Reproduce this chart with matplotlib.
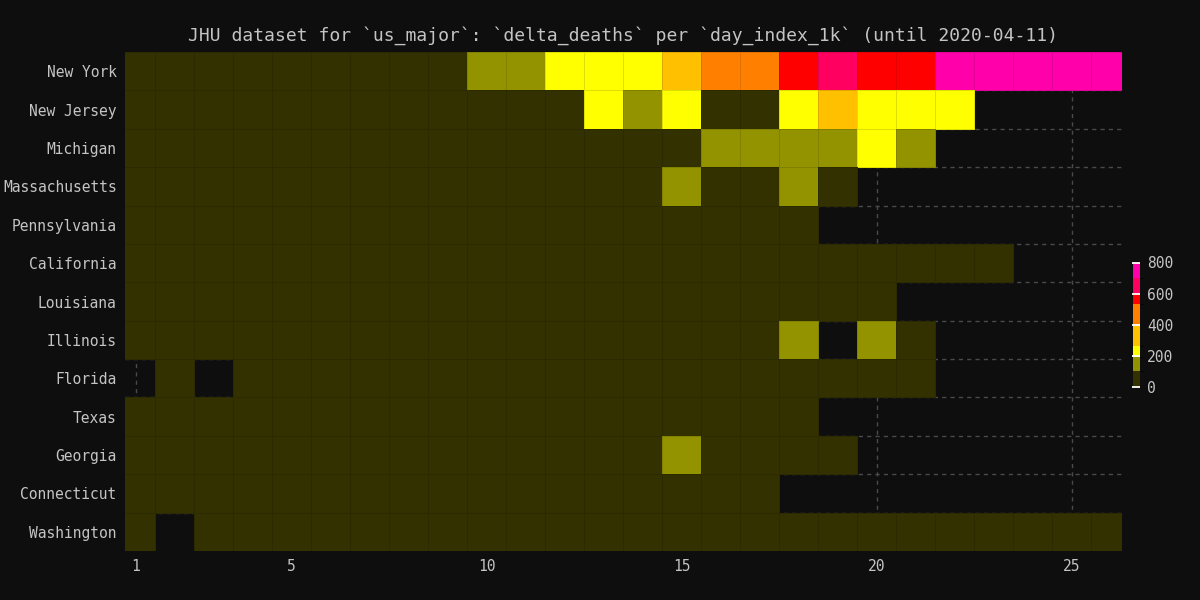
import matplotlib
matplotlib.use('Agg')
import matplotlib.pyplot as plt
import numpy as np
from matplotlib.colors import ListedColormap, BoundaryNorm

nan = np.nan

states = ['New York', 'New Jersey', 'Michigan', 'Massachusetts', 'Pennsylvania',
          'California', 'Louisiana', 'Illinois', 'Florida', 'Texas', 'Georgia',
          'Connecticut', 'Washington']
days = np.arange(1, 27)

new_york = [0, 0, 1, 2, 5, 8, 22, 38, 55, 118, 152, 210, 237, 252, 384, 455, 519,
            563, 630, 575, 590, 790, 740, 760, 770, 780]
new_jersey = [0, 0, 0, 0, 1, 2, 3, 5, 9, 16, 20, 40, 215, 130, 230, 90, 70, 232,
              275, 250, 225, 245, nan, nan, nan, nan]
michigan = [0, 0, 0, 0, 0, 0, 1, 2, 4, 5, 8, 12, 20, 35, 60, 110, 115, 150, 118,
            205, 117, nan, nan, nan, nan, nan]
massachusetts = [0, 0, 0, 0, 0, 0, 0, 1, 3, 4, 6, 10, 17, 23, 108, 56, 76, 120, 96,
                 nan, nan, nan, nan, nan, nan, nan]
pennsylvania = [0, 0, 0, 0, 1, 1, 2, 4, 6, 9, 12, 15, 22, 30, 40, 48, 60, 75,
                nan, nan, nan, nan, nan, nan, nan, nan]
california = [0, 1, 1, 2, 3, 4, 5, 8, 10, 14, 18, 20, 25, 30, 35, 40, 45, 50, 55,
              60, 68, 70, 72, nan, nan, nan]
louisiana = [0, 1, 2, 3, 5, 8, 10, 14, 18, 20, 25, 30, 35, 40, 45, 50, 60, 65, 70,
             75, nan, nan, nan, nan, nan, nan]
illinois = [0, 0, 1, 1, 2, 3, 4, 6, 8, 10, 13, 16, 20, 25, 35, 45, 60, 125, nan,
            160, 68, nan, nan, nan, nan, nan]
florida = [nan, 1, nan, 1, 2, 3, 4, 6, 8, 10, 12, 15, 18, 22, 26, 30, 35, 40, 45,
           55, 65, nan, nan, nan, nan, nan]
texas = [0, 0, 1, 1, 2, 3, 4, 5, 6, 8, 10, 12, 14, 16, 18, 20, 22, 25,
         nan, nan, nan, nan, nan, nan, nan, nan]
georgia = [0, 0, 1, 1, 2, 3, 4, 6, 8, 10, 14, 18, 22, 30, 108, 40, 50, 60, 70,
           nan, nan, nan, nan, nan, nan, nan]
connecticut = [0, 0, 0, 1, 1, 2, 3, 4, 6, 8, 10, 12, 15, 20, 25, 30, 40,
               nan, nan, nan, nan, nan, nan, nan, nan, nan]
washington = [1, nan, 2, 3, 4, 5, 6, 8, 10, 12, 14, 16, 18, 20, 22, 24, 26, 28, 30,
              32, 34, 36, 38, 40, 42, 44]

values = np.array([new_york, new_jersey, michigan, massachusetts, pennsylvania,
                   california, louisiana, illinois, florida, texas, georgia,
                   connecticut, washington], dtype=float)

bounds = [0, 105, 195, 265, 400, 535, 600, 700, 800]
colors = ['#333100', '#939300', '#ffff00', '#ffc000', '#ff8000', '#ff0000',
          '#ff0060', '#ff00aa']
cbar_ticks = [0, 200, 400, 600, 800]
x_ticks = [1, 5, 10, 15, 20, 25]

bg = '#0e0e0e'
fg = '#c4c4c4'
plt.rcParams['font.family'] = ['DejaVu Sans Mono']

cmap = ListedColormap(colors)
norm = BoundaryNorm(bounds, cmap.N)

fig = plt.figure(figsize=(12, 6), dpi=100, facecolor=bg)
ax = fig.add_axes([0.1042, 0.0817, 0.8306, 0.8316], facecolor=bg)

x_edges = np.append(days - 0.5, days[-1] + 0.5)
y_edges = np.arange(len(states) + 1) - 0.5
mesh = ax.pcolormesh(x_edges, y_edges, np.ma.masked_invalid(values), cmap=cmap,
                     norm=norm, linewidth=0.6)
# thin dark borders only around cells that hold data
edge_rgba = np.zeros((values.size, 4))
edge_rgba[:, 3] = np.where(np.isnan(values.ravel()), 0.0, 0.12)
mesh.set_edgecolor(edge_rgba)

ax.set_xlim(0.725, 26.28)
ax.set_ylim(len(states) - 0.5, -0.5)
ax.set_yticks(np.arange(len(states)))
ax.set_yticklabels(states)
ax.set_yticks(np.arange(len(states) - 1) + 0.5, minor=True)
ax.set_xticks(x_ticks)
ax.set_axisbelow(True)
ax.grid(True, which='major', axis='x', color='#4a4a4a', linestyle=(0, (3, 3)), lw=1)
ax.grid(True, which='minor', axis='y', color='#4a4a4a', linestyle=(0, (3, 3)), lw=1)
ax.tick_params(which='both', length=0, colors=fg, labelsize=10.5, pad=6)
for s in ax.spines.values():
    s.set_visible(False)

ax.set_title("JHU dataset for `us_major`: `delta_deaths` per `day_index_1k` (until 2020-04-11)",
             color=fg, fontsize=13, pad=8)

cax = fig.add_axes([0.9442, 0.355, 0.006, 0.2075])
cbar = fig.colorbar(mesh, cax=cax, spacing='proportional', ticks=cbar_ticks)
cbar.outline.set_visible(False)
cax.tick_params(length=5.5, width=1.3, color='white', direction='in',
                labelcolor=fg, labelsize=10.5, pad=5)

plt.savefig('out.png', dpi=100, facecolor=bg)
